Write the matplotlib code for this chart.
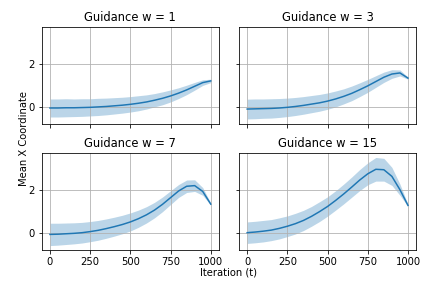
import matplotlib
matplotlib.use("Agg")
import matplotlib.pyplot as plt
import numpy as np

# iteration steps
t = np.arange(0, 1001, 50)

# mean x coordinate per guidance weight
mean_w1 = [-0.06, -0.06, -0.05, -0.05, -0.04, -0.03, -0.01, 0.01, 0.04, 0.07, 0.11,
           0.16, 0.22, 0.30, 0.39, 0.50, 0.63, 0.78, 0.95, 1.12, 1.20]
mean_w3 = [-0.11, -0.10, -0.09, -0.08, -0.06, -0.03, 0.01, 0.06, 0.12, 0.18, 0.26,
           0.36, 0.48, 0.62, 0.79, 0.97, 1.17, 1.37, 1.52, 1.57, 1.33]
mean_w7 = [-0.08, -0.07, -0.05, -0.03, 0.00, 0.05, 0.11, 0.19, 0.28, 0.38, 0.50,
           0.65, 0.83, 1.05, 1.32, 1.63, 1.94, 2.16, 2.19, 1.92, 1.33]
mean_w15 = [0.00, 0.03, 0.07, 0.12, 0.20, 0.30, 0.42, 0.57, 0.76, 0.98, 1.22,
            1.50, 1.80, 2.12, 2.45, 2.74, 2.95, 2.93, 2.62, 2.00, 1.27]

# spread (std) per guidance weight
std_w1 = [0.42, 0.42, 0.42, 0.41, 0.41, 0.40, 0.40, 0.39, 0.38, 0.37, 0.36,
          0.35, 0.33, 0.31, 0.30, 0.28, 0.25, 0.22, 0.18, 0.13, 0.08]
std_w3 = [0.46, 0.46, 0.45, 0.45, 0.44, 0.43, 0.42, 0.41, 0.40, 0.39, 0.38,
          0.37, 0.35, 0.34, 0.32, 0.30, 0.27, 0.24, 0.20, 0.14, 0.05]
std_w7 = [0.52, 0.51, 0.50, 0.49, 0.48, 0.47, 0.46, 0.45, 0.44, 0.43, 0.42,
          0.40, 0.38, 0.36, 0.34, 0.32, 0.30, 0.29, 0.27, 0.18, 0.05]
std_w15 = [0.50, 0.50, 0.50, 0.49, 0.49, 0.48, 0.48, 0.47, 0.46, 0.46, 0.45,
           0.45, 0.46, 0.47, 0.49, 0.51, 0.55, 0.53, 0.42, 0.26, 0.05]

weights = [1, 3, 7, 15]
means = [mean_w1, mean_w3, mean_w7, mean_w15]
stds = [std_w1, std_w3, std_w7, std_w15]

fig, axes = plt.subplots(2, 2, figsize=(6, 4), dpi=72, sharex=True, sharey=True)

for ax, w, m, s in zip(axes.flat, weights, means, stds):
    m = np.array(m)
    s = np.array(s)
    ax.plot(t, m, color="#1f77b4")
    ax.fill_between(t, m - s, m + s, color="#1f77b4", alpha=0.3, linewidth=0)
    ax.set_title("Guidance w = %d" % w, fontsize=11.5)
    ax.grid(True)

axes[0, 0].set_xticks([0, 250, 500, 750, 1000])
axes[0, 0].set_yticks([0, 2])

plt.subplots_adjust(left=0.097, right=0.963, top=0.906, bottom=0.132,
                    wspace=0.115, hspace=0.30)
fig.supxlabel("Iteration (t)", x=0.53, y=0.035, fontsize=10)
fig.supylabel("Mean X Coordinate", x=0.045, y=0.52, fontsize=10)

plt.savefig("out.png", dpi=72)
